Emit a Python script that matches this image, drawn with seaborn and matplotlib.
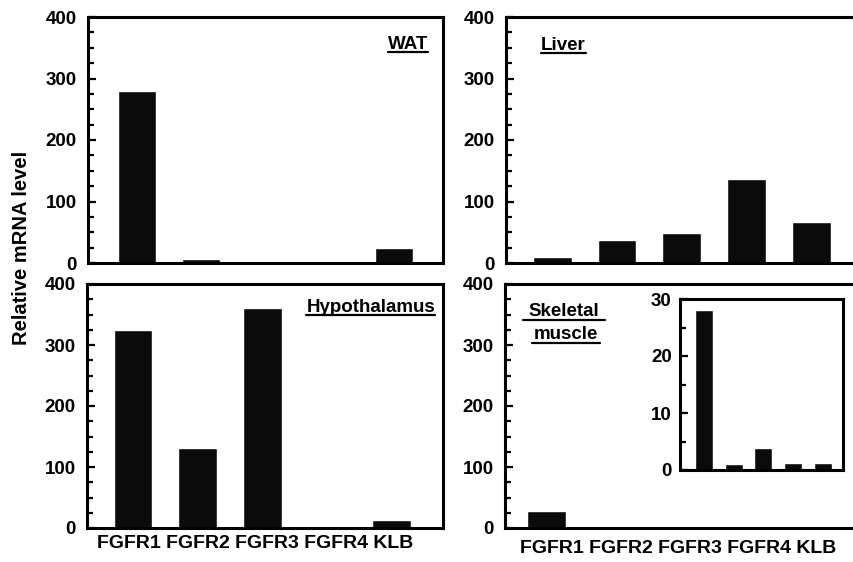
import matplotlib
matplotlib.use("Agg")
import matplotlib.pyplot as plt
from matplotlib.lines import Line2D
from matplotlib.ticker import MultipleLocator
import seaborn as sb

# data
genes = ["FGFR1", "FGFR2", "FGFR3", "FGFR4", "KLB"]
wat = [279, 6, 3, 0, 25]
liver = [9, 37, 49, 137, 66]
hypothalamus = [325, 131, 361, 0, 12.5]
skeletal_muscle = [28, 1.0, 3.8, 1.2, 1.2]

sb.set_style("ticks")
plt.rcParams["font.family"] = ["Liberation Sans", "DejaVu Sans"]
plt.rcParams["font.weight"] = "bold"
plt.rcParams["text.color"] = "black"
plt.rcParams["ytick.color"] = "black"
plt.rcParams["ytick.labelcolor"] = "black"

W, H = 854, 562
fig = plt.figure(figsize=(W / 100, H / 100), dpi=100)


def px_axes(left, right, top, bottom):
    # axes box given in pixels of the picture
    return fig.add_axes([left / W, 1 - bottom / H, (right - left) / W, (bottom - top) / H])


def style(ax, ymax, major, minor, xlim, right=True):
    ax.set_ylim(0, ymax)
    ax.set_xlim(*xlim)
    ax.yaxis.set_major_locator(MultipleLocator(major))
    ax.yaxis.set_minor_locator(MultipleLocator(minor))
    ax.tick_params(axis="y", which="major", direction="in", length=6, width=1.6,
                   labelsize=13.5, pad=8, colors="black")
    ax.tick_params(axis="y", which="minor", direction="in", length=4, width=1.6,
                   colors="black")
    ax.tick_params(axis="x", which="both", bottom=False, labelbottom=False)
    for name, s in ax.spines.items():
        s.set_visible(right or name != "right")
        s.set_linewidth(2.2)
        s.set_color("black")
    ax.set_xlabel("")
    ax.set_ylabel("")
    for lab in ax.get_yticklabels():
        lab.set_fontweight("bold")


bar_color = "#0b0b0b"

# right-hand panels run off the edge of the picture, so no right spine there
panels = [
    (wat, (88, 443, 17, 263), (-0.76, 4.76), True),
    (liver, (506, 854, 17, 263), (-0.71, 4.65), False),
    (hypothalamus, (87, 443, 284, 528), (-0.71, 4.79), True),
    (skeletal_muscle, (505, 854, 284, 528), (-0.64, 4.73), False),
]
axes = []
for vals, box, xl, right in panels:
    ax = px_axes(*box)
    sb.barplot(x=genes, y=vals, color=bar_color, width=0.6, saturation=1, ax=ax)
    style(ax, 400, 100, 25, xl, right)
    axes.append(ax)

# inset for skeletal muscle
ins = px_axes(680, 843, 299, 470)
sb.barplot(x=genes, y=skeletal_muscle, color=bar_color, width=0.6, saturation=1, ax=ins)
style(ins, 30, 10, 5, (-0.8, 4.67))
ins.tick_params(axis="y", which="major", pad=6)

# panel names
t_wat = axes[0].text(0.958, 0.870, "WAT", transform=axes[0].transAxes, ha="right",
                     va="baseline", fontsize=13.5, fontweight="bold")
t_liv = axes[1].text(0.1, 0.866, "Liver", transform=axes[1].transAxes, ha="left",
                     va="baseline", fontsize=13.5, fontweight="bold")
t_hyp = axes[2].text(0.978, 0.886, "Hypothalamus", transform=axes[2].transAxes, ha="right",
                     va="baseline", fontsize=13.5, fontweight="bold")
t_sk1 = fig.text(564 / W, 1 - 316 / H, "Skeletal", ha="center", va="baseline",
                 fontsize=13.5, fontweight="bold")
t_sk2 = fig.text(566 / W, 1 - 339 / H, "muscle", ha="center", va="baseline",
                 fontsize=13.5, fontweight="bold")

# gene names under the bottom panels
fig.text(97 / W, 1 - 548 / H, " ".join(genes), ha="left", va="baseline",
         fontsize=14, fontweight="bold")
fig.text(520 / W, 1 - 553 / H, " ".join(genes), ha="left", va="baseline",
         fontsize=14, fontweight="bold")

fig.text(22 / W, 1 - 248 / H, "Relative mRNA level", rotation=90, ha="center",
         va="center", fontsize=14.5, fontweight="bold")

# underline the panel names
fig.canvas.draw()
for t, pad in [(t_wat, 0), (t_liv, 0), (t_hyp, 0), (t_sk1, 6), (t_sk2, 2)]:
    bb = t.get_window_extent()
    y = bb.y0 + 0.5
    fig.add_artist(Line2D([(bb.x0 - pad) / W, (bb.x1 + pad) / W], [y / H, y / H],
                          transform=fig.transFigure, color="black", linewidth=1.6))

fig.savefig("out.png", dpi=100)
